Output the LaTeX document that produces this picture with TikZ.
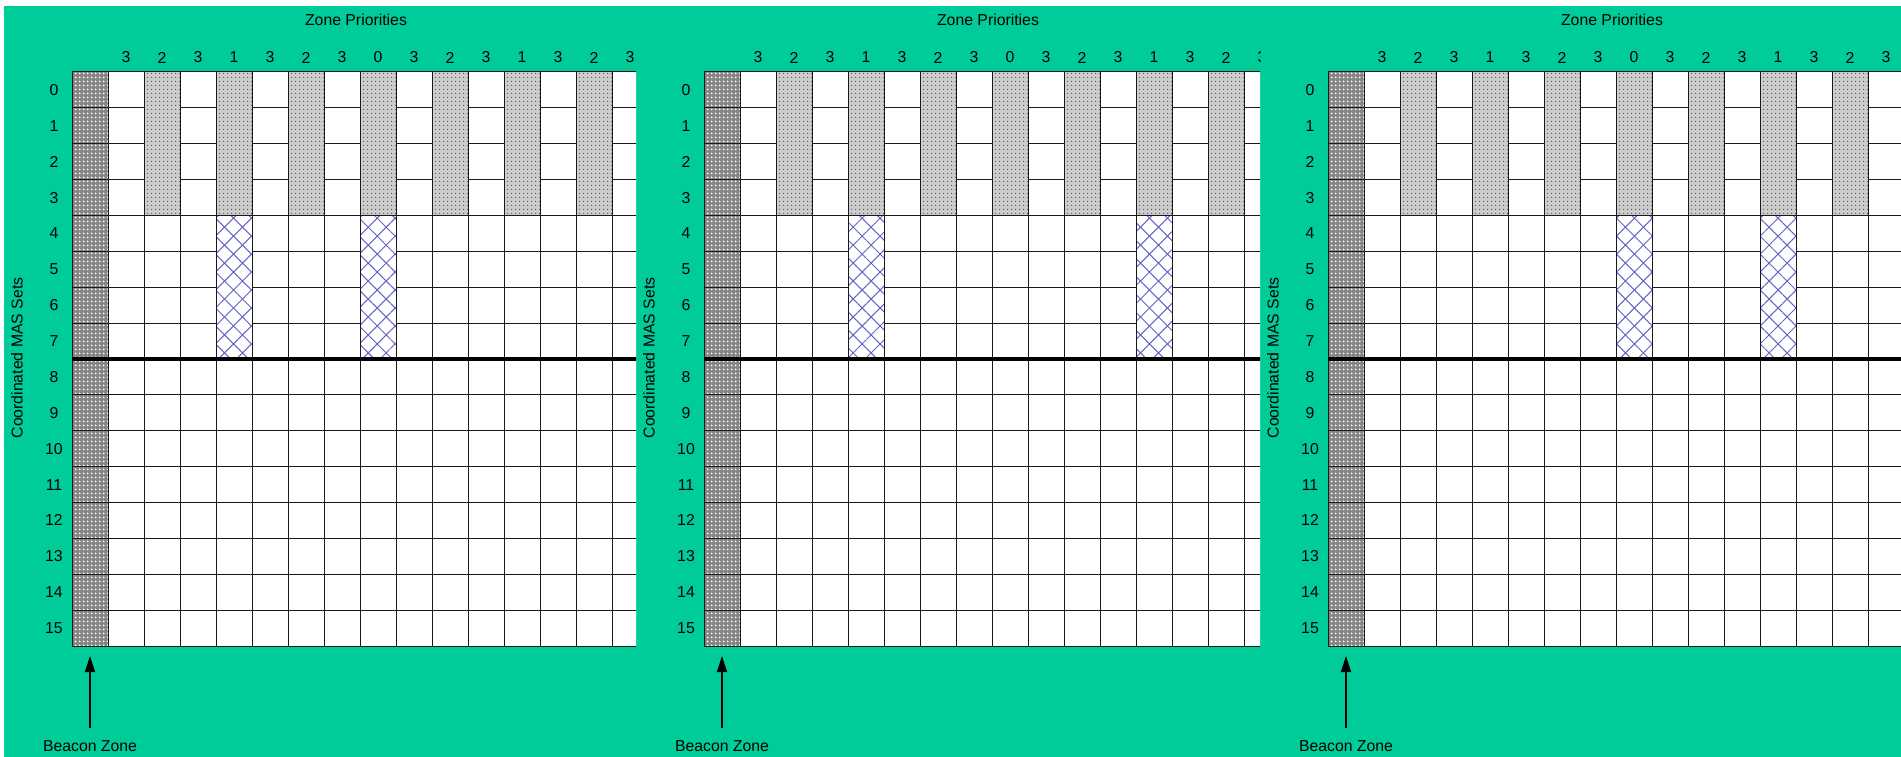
\documentclass[tikz,border=0pt]{standalone}
\usepackage{fontspec}
\setmainfont{Liberation Sans}
\usetikzlibrary{patterns,patterns.meta,arrows.meta}
\definecolor{bggreen}{RGB}{0,204,153}
\definecolor{hatchblue}{RGB}{100,100,195}
\begin{document}
\begin{tikzpicture}[x=1pt,y=-1pt,
  font=\fontsize{15.8}{18}\selectfont,
  lbl/.style={inner sep=0pt},
  gridline/.style={draw=black!90,line width=1pt},
  thickline/.style={draw=black,line width=4pt},
  beaconfill/.style={fill=black!48},
  beacondots/.style={pattern={Dots[distance=4pt,radius=1.2pt]},pattern color=white},
  stripefill/.style={fill=black!20},
  stripedots/.style={pattern={Dots[distance=4pt,radius=0.8pt]},pattern color=black!65},
  hatchA/.style={pattern={Lines[angle=45,distance=12.7pt,line width=1pt]},pattern color=hatchblue},
  hatchB/.style={pattern={Lines[angle=-45,distance=12.7pt,line width=1pt]},pattern color=hatchblue},
  arr/.style={draw=black,line width=1.2pt,-{Triangle[length=16pt,width=10pt]}}
]
\useasboundingbox (0,0) rectangle (1901,757);
\fill[bggreen] (4,6) rectangle (1901,757);

\foreach \p/\X/\R/\ba/\bb in {1/72/636/4/8, 2/704/1260/4/12, 3/1328/1901/8/12} {
  \begin{scope}
    \clip (\X-72,0) rectangle (\R,757);
    % white grid area
    \fill[white] (\X,72) rectangle (\X+576,646);
    % beacon column
    \fill[beaconfill] (\X,72) rectangle (\X+36,646);
    \fill[beacondots] (\X,72) rectangle (\X+36,646);
    % grid lines
    \foreach \k in {0,...,16} {
      \draw[gridline] (\X+36*\k,72) -- (\X+36*\k,646);
    }
    \foreach \r in {0,...,16} {
      \draw[gridline] (\X,72+35.875*\r) -- (\X+576,72+35.875*\r);
    }
    % grey stripes (rows 0-3)
    \foreach \k in {2,4,...,14} {
      \fill[stripefill] (\X+36*\k,72) rectangle (\X+36*\k+36,215.5);
      \fill[stripedots] (\X+36*\k,72) rectangle (\X+36*\k+36,215.5);
      \draw[gridline] (\X+36*\k,72) rectangle (\X+36*\k+36,215.5);
    }
    % blue hatched cells (rows 4-7)
    \foreach \k in {\ba,\bb} {
      \fill[white] (\X+36*\k,215.5) rectangle (\X+36*\k+36,359);
      \fill[hatchA] (\X+36*\k,215.5) rectangle (\X+36*\k+36,359);
      \fill[hatchB] (\X+36*\k,215.5) rectangle (\X+36*\k+36,359);
      \draw[gridline] (\X+36*\k,215.5) rectangle (\X+36*\k+36,359);
    }
    % thick separator
    \draw[thickline] (\X,359) -- (\X+576,359);
    % column labels
    \foreach \t [count=\k] in {3,2,3,1,3,2,3,0,3,2,3,1,3,2,3} {
      \node[lbl] (c\p-\k) at (\X+36*\k+18,57.5) {\t};
    }
    % row labels
    \foreach \r in {0,...,15} {
      \node[lbl] (r\p-\r) at (\X-18,72+35.875*\r+17.94) {\r};
    }
    \node[lbl,anchor=base] (zp\p) at (\X+284,26) {Zone Priorities};
    \node[lbl,rotate=90] (cm\p) at (\X-55,358) {Coordinated MAS Sets};
    \node[lbl,anchor=base] (bz\p) at (\X+18,751) {Beacon Zone};
    \coordinate (bt\p) at (\X+18,656);
    \draw[arr] ([yshift=12pt]bz\p.north) -- (bt\p);
  \end{scope}
}
\end{tikzpicture}
\end{document}
